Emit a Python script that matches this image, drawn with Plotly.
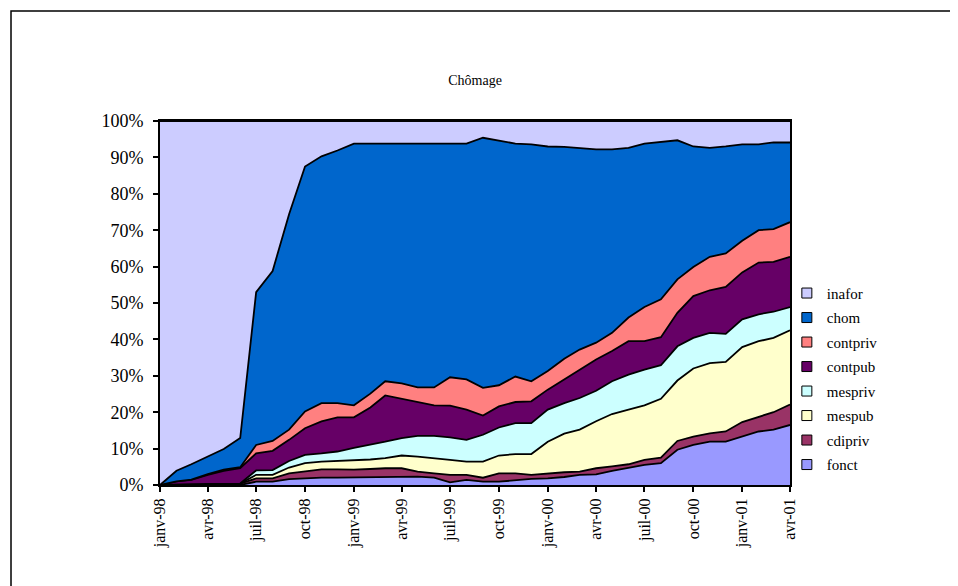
import plotly.graph_objects as go
import pandas as pd

# mois de janv-98 à avr-01
months = pd.date_range("1998-01-01", periods=40, freq="MS")
tick_labels = ["janv-98", "avr-98", "juil-98", "oct-98", "janv-99", "avr-99", "juil-99",
               "oct-99", "janv-00", "avr-00", "juil-00", "oct-00", "janv-01", "avr-01"]
y_ticks = [0, 10, 20, 30, 40, 50, 60, 70, 80, 90, 100]
y_labels = ["0%", "10%", "20%", "30%", "40%", "50%", "60%", "70%", "80%", "90%", "100%"]

# parts en % (empilées de bas en haut)
fonct = [0, 0, 0, 0, 0, 0, 0.9, 0.9, 1.6, 1.8, 2.0, 2.0, 2.1, 2.1, 2.3, 2.3, 2.3, 2.0, 0.7, 1.4,
         0.9, 0.9, 1.4, 1.7, 1.8, 2.2, 2.8, 2.9, 3.9, 4.8, 5.5, 6.0, 9.7, 11.0, 11.9, 11.9, 13.3, 14.7, 15.2, 16.5]
cdipriv = [0, 0, 0.2, 0.3, 0.4, 0.4, 0.9, 0.9, 1.6, 1.9, 2.3, 2.3, 2.1, 2.3, 2.3, 2.3, 1.4, 1.2, 2.1, 1.4,
           1.1, 2.3, 1.8, 1.1, 1.4, 1.3, 0.9, 1.7, 1.2, 0.9, 1.4, 1.5, 2.4, 2.3, 2.3, 2.8, 4.0, 4.1, 4.8, 5.6]
mespub = [0, 0, 0, 0, 0, 0, 1.0, 1.0, 1.6, 2.3, 2.1, 2.3, 2.5, 2.6, 2.8, 3.5, 4.1, 4.2, 4.1, 3.6,
          4.4, 4.9, 5.3, 5.7, 8.7, 10.6, 11.5, 12.9, 14.4, 15.0, 15.0, 16.2, 16.6, 18.7, 19.3, 19.1, 20.6, 20.7, 20.4, 20.4]
mespriv = [0, 0, 0, 0, 0, 0, 1.2, 1.3, 1.8, 2.3, 2.3, 2.6, 3.5, 4.0, 4.5, 4.8, 5.7, 6.1, 6.2, 6.0,
           7.4, 7.7, 8.5, 8.5, 8.8, 8.4, 8.7, 8.4, 9.0, 9.6, 9.8, 9.2, 9.4, 8.4, 8.3, 7.7, 7.6, 7.4, 7.2, 6.4]
contpub = [0, 1.0, 1.2, 2.5, 3.5, 4.2, 4.7, 5.3, 5.8, 7.3, 8.8, 9.4, 8.4, 10.3, 12.7, 10.8, 9.5, 8.4, 8.7, 8.3,
           5.3, 5.8, 5.8, 6.0, 5.5, 6.5, 7.8, 8.6, 8.3, 9.2, 7.8, 7.7, 9.2, 11.5, 11.7, 12.9, 12.9, 14.2, 13.7, 13.8]
contpriv = [0, 0, 0.1, 0.2, 0.3, 0.3, 2.3, 2.7, 2.8, 4.6, 5.0, 3.9, 3.3, 3.8, 3.9, 4.2, 3.8, 4.9, 7.8, 8.3,
            7.6, 5.8, 7.0, 5.5, 5.1, 5.7, 5.5, 4.6, 5.0, 6.5, 9.4, 10.4, 9.2, 8.0, 9.2, 9.2, 8.7, 8.9, 9.0, 9.5]
chom = [0, 2.9, 4.2, 4.8, 5.7, 8.0, 42.0, 46.7, 59.2, 67.3, 67.8, 69.4, 71.9, 68.7, 65.3, 65.9, 67.0, 67.0, 64.2, 64.8,
        68.7, 67.3, 64.0, 65.1, 61.7, 58.2, 55.4, 53.1, 50.4, 46.6, 44.9, 43.2, 38.2, 33.1, 29.9, 29.4, 26.5, 23.6, 23.8, 21.9]
inafor = [100, 96.1, 94.3, 92.2, 90.1, 87.1, 47.0, 41.2, 25.6, 12.5, 9.7, 8.1, 6.2, 6.2, 6.2, 6.2, 6.2, 6.2, 6.2, 6.2,
          4.6, 5.3, 6.2, 6.4, 7.0, 7.1, 7.4, 7.8, 7.8, 7.4, 6.2, 5.8, 5.3, 7.0, 7.4, 7.0, 6.4, 6.4, 5.9, 5.9]

series = [
    ("fonct", fonct, "#9999FF"),
    ("cdipriv", cdipriv, "#993366"),
    ("mespub", mespub, "#FFFFCC"),
    ("mespriv", mespriv, "#CCFFFF"),
    ("contpub", contpub, "#660066"),
    ("contpriv", contpriv, "#FF8080"),
    ("chom", chom, "#0066CC"),
    ("inafor", inafor, "#CCCCFF"),
]

fig = go.Figure()
for name, vals, col in series:
    fig.add_trace(go.Scatter(
        x=months, y=vals, name=name, mode="lines",
        stackgroup="one", groupnorm="percent",
        line=dict(color="black", width=1.8),
        fillcolor=col, showlegend=False, hoverinfo="x+y+name",
    ))

# légende façon Excel : petits carrés, inafor en haut
for name, vals, col in series[::-1]:
    fig.add_trace(go.Scatter(
        x=[None], y=[None], name=name, mode="markers",
        marker=dict(symbol="square", size=10, color=col, line=dict(color="black", width=1)),
        legendgroup=name,
    ))

serif = "Liberation Serif, Times New Roman, serif"

fig.update_layout(
    width=958, height=586,
    paper_bgcolor="white", plot_bgcolor="white",
    margin=dict(l=152, r=176, t=113, b=109),
    font=dict(family=serif, size=15, color="black"),
    title=dict(text="Chômage", x=0.4875, y=0.877, xanchor="center", yanchor="middle",
               font=dict(family=serif, size=14, color="black")),
    showlegend=True,
    legend=dict(x=0.995, y=0.572, xanchor="left", yanchor="top",
                traceorder="grouped", tracegroupgap=2, itemwidth=30,
                font=dict(family=serif, size=15), bgcolor="rgba(0,0,0,0)"),
    xaxis=dict(
        range=[months[0], months[-1]],
        tickvals=months[::3], ticktext=tick_labels, tickangle=-90,
        ticks="outside", ticklen=5, tickcolor="black", tickwidth=1.5,
        ticklabelstandoff=0,
        showgrid=False, zeroline=False,
        showline=True, linecolor="black", linewidth=2, mirror=True,
        tickfont=dict(family=serif, size=16),
    ),
    yaxis=dict(
        range=[0, 100], tickvals=y_ticks, ticktext=y_labels,
        ticks="outside", ticklen=5, tickcolor="black", tickwidth=1.5,
        ticklabelstandoff=6,
        showgrid=False, zeroline=False,
        showline=True, linecolor="black", linewidth=2, mirror=True,
        tickfont=dict(family=serif, size=18),
    ),
    shapes=[dict(type="rect", xref="paper", yref="paper",
                 x0=-0.2365, x1=1.2746, y0=-0.2912, y1=1.3022,
                 line=dict(color="black", width=1.5), fillcolor="rgba(0,0,0,0)")],
)

fig.write_html("out.html")
